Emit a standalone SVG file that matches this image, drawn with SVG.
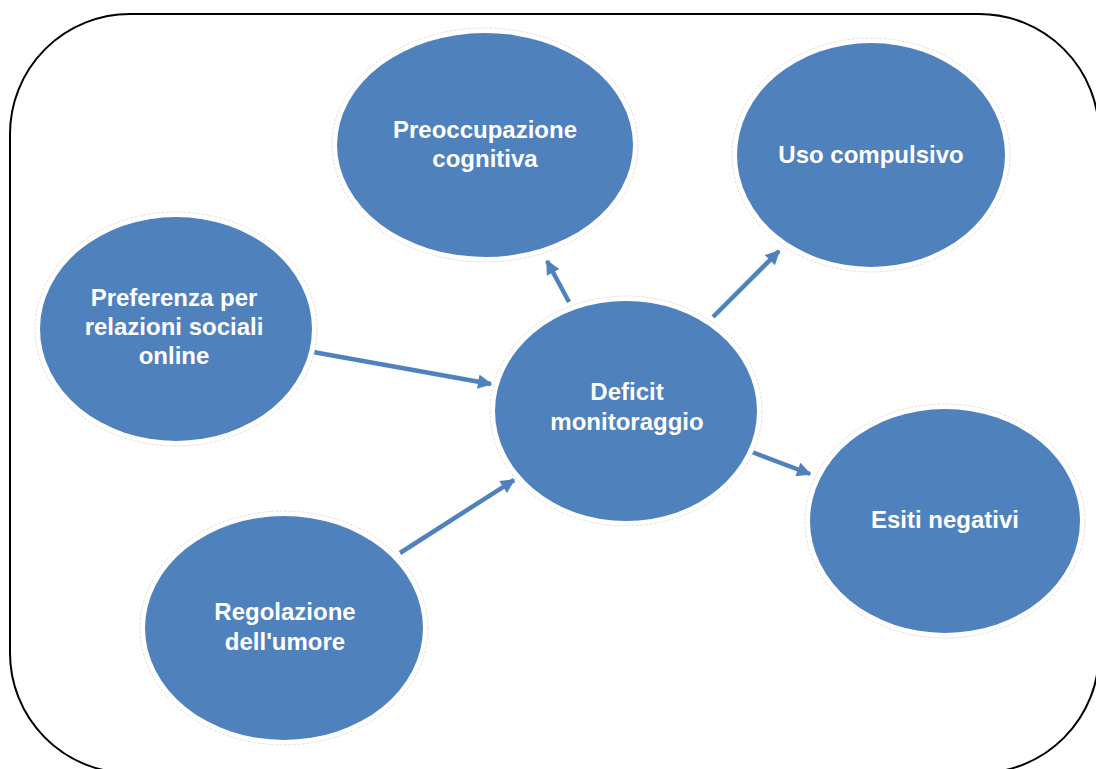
<svg xmlns="http://www.w3.org/2000/svg" width="1096" height="769" viewBox="0 0 1096 769">
  <defs>
    <style>
      .halo { fill: #ffffff; stroke: #e2e2e2; stroke-width: 1; stroke-dasharray: 3 1.5; }
      .node { fill: #4F81BD; stroke: none; }
      .lbl { font-family: "Liberation Sans", Arial, sans-serif; font-weight: bold; font-size: 24px; fill: #ffffff; text-anchor: middle; }
      .conn { stroke: #4F81BD; stroke-width: 4.5; fill: none; marker-end: url(#arrow); }
    </style>
    <marker id="arrow" viewBox="0 0 10 10" refX="9" refY="5" markerWidth="3.4" markerHeight="3.2" orient="auto" markerUnits="strokeWidth">
      <path d="M0,0 L10,5 L0,10 z" fill="#4F81BD"/>
    </marker>
  </defs>
  <rect width="1096" height="769" fill="#ffffff"/>
  <rect x="10" y="14" width="1089" height="759" rx="120" ry="120" fill="none" stroke="#000000" stroke-width="2"/>

  <g id="connectors">
    <line class="conn" x1="313" y1="352" x2="491" y2="384"/>
    <line class="conn" x1="569" y1="302" x2="547" y2="261"/>
    <line class="conn" x1="713" y1="317" x2="779" y2="251"/>
    <line class="conn" x1="400" y1="553" x2="514" y2="480"/>
    <line class="conn" x1="752" y1="452" x2="810" y2="474"/>
  </g>

  <g id="node-preoccupazione">
    <ellipse class="halo" cx="485" cy="145" rx="153" ry="117"/>
    <ellipse class="node" cx="485" cy="145" rx="148" ry="112"/>
    <text class="lbl" x="485" y="138">Preoccupazione</text>
    <text class="lbl" x="485" y="167">cognitiva</text>
  </g>

  <g id="node-uso">
    <ellipse class="halo" cx="871" cy="155" rx="139" ry="117"/>
    <ellipse class="node" cx="871" cy="155" rx="134" ry="112"/>
    <text class="lbl" x="871" y="163">Uso compulsivo</text>
  </g>

  <g id="node-preferenza">
    <ellipse class="halo" cx="176" cy="329" rx="141" ry="117"/>
    <ellipse class="node" cx="176" cy="329" rx="136" ry="112"/>
    <text class="lbl" x="174" y="306">Preferenza per</text>
    <text class="lbl" x="174" y="335">relazioni sociali</text>
    <text class="lbl" x="174" y="364">online</text>
  </g>

  <g id="node-deficit">
    <ellipse class="halo" cx="626" cy="411" rx="136" ry="115"/>
    <ellipse class="node" cx="626" cy="411" rx="131" ry="110"/>
    <text class="lbl" x="627" y="400">Deficit</text>
    <text class="lbl" x="627" y="430">monitoraggio</text>
  </g>

  <g id="node-esiti">
    <ellipse class="halo" cx="945" cy="521" rx="140" ry="117"/>
    <ellipse class="node" cx="945" cy="521" rx="135" ry="112"/>
    <text class="lbl" x="945" y="528">Esiti negativi</text>
  </g>

  <g id="node-regolazione">
    <ellipse class="halo" cx="284" cy="628" rx="144" ry="117"/>
    <ellipse class="node" cx="284" cy="628" rx="139" ry="112"/>
    <text class="lbl" x="285" y="620">Regolazione</text>
    <text class="lbl" x="285" y="650">dell'umore</text>
  </g>
</svg>
